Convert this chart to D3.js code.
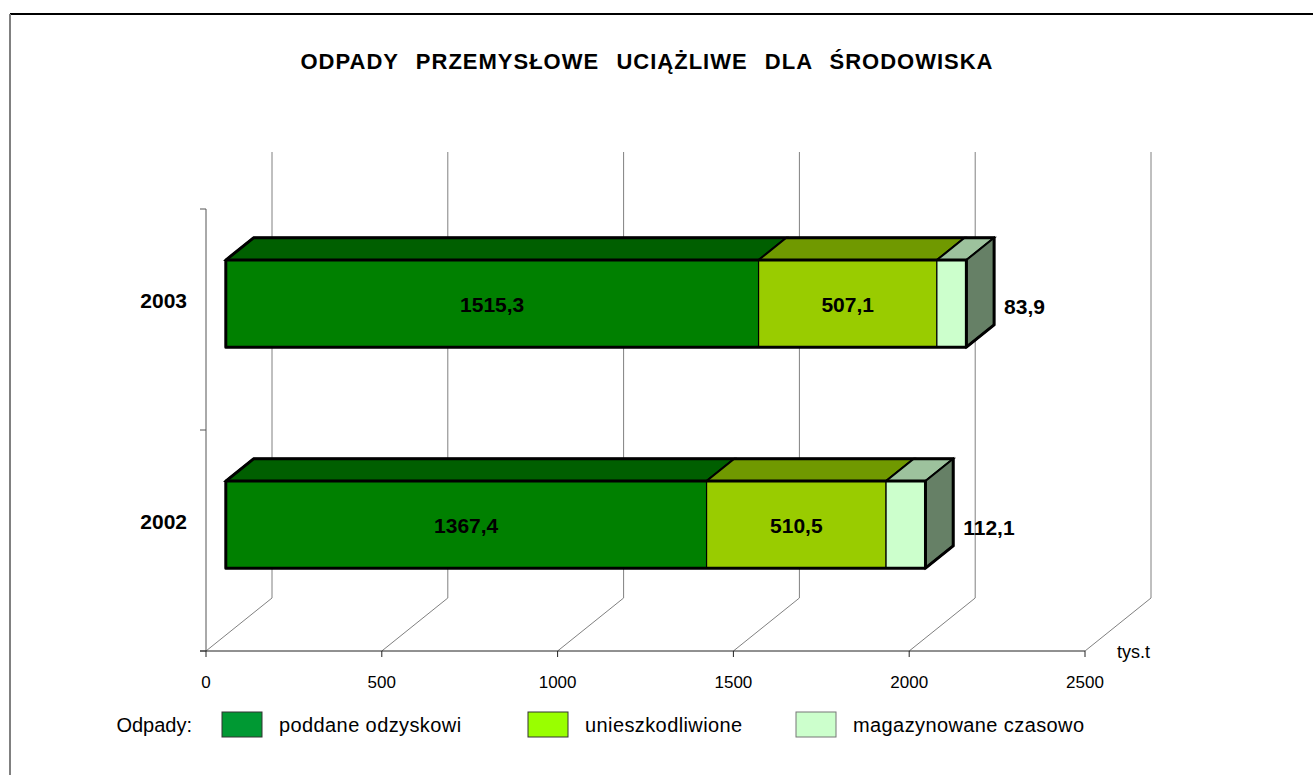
<!DOCTYPE html>
<html>
<head>
<meta charset="utf-8">
<script src="https://cdn.jsdelivr.net/npm/d3@7"></script>
<style>
  html, body { margin: 0; padding: 0; background: #fff; }
  svg { display: block; font-family: Arial, "Liberation Sans", sans-serif; }
</style>
</head>
<body>
<svg id="chart" width="1313" height="775"></svg>
<script>
// data
const years = ['2003', '2002']
const recovered = [1515.3, 1367.4]      // poddane odzyskowi
const neutralised = [507.1, 510.5]      // unieszkodliwione
const stored = [83.9, 112.1]            // magazynowane czasowo
const valueLabels = [['1515,3', '507,1', '83,9'], ['1367,4', '510,5', '112,1']]
const xTicks = [0, 500, 1000, 1500, 2000, 2500]
const seriesNames = ['poddane odzyskowi', 'unieszkodliwione', 'magazynowane czasowo']

const frontColors = ['#008000', '#99cc00', '#ccffcc']
const topColors = ['#005f00', '#709900', '#9dc29d']
const sideColor = '#668066'
const legendColors = ['#009933', '#99ff00', '#ccffcc']

const svg = d3.select('#chart')
const depth = { dx: 66, dy: -53 }
const barDepth = [0.3, 0.72]

const x = d3.scaleLinear().domain([0, 2500]).range([206, 1085])
const y = d3.scaleBand().domain(years).range([209, 651])
const barH = y.bandwidth() * 0.394

// projection: value, front-plane y, depth fraction
const P = (v, yy, t) => [x(v) + t * depth.dx, yy + t * depth.dy]

// frame
svg.append('line').attr('x1', 10).attr('x2', 1313).attr('y1', 14).attr('y2', 14)
    .attr('stroke', '#000').attr('stroke-width', 2)
svg.append('line').attr('x1', 10).attr('x2', 10).attr('y1', 14).attr('y2', 775)
    .attr('stroke', '#808080').attr('stroke-width', 2)

// title
const title = svg.append('text')
    .attr('x', 647).attr('y', 69)
    .attr('text-anchor', 'middle')
    .style('font-weight', 'bold').style('font-size', '22px')
    .style('letter-spacing', '1px')
    .text('ODPADY PRZEMYSŁOWE UCIĄŻLIWE DLA ŚRODOWISKA')
const tLen = title.node().getComputedTextLength()
title.style('word-spacing', Math.max(0, (693 - tLen) / 4) + 'px')

// back wall gridlines and floor diagonals
const grid = svg.append('g').attr('stroke', '#808080').attr('stroke-width', 1).attr('fill', 'none')
xTicks.forEach(t => {
    const back = P(t, 651, 1)
    grid.append('line')
        .attr('x1', back[0]).attr('y1', back[1])
        .attr('x2', back[0]).attr('y2', P(t, 205, 1)[1])
    grid.append('line')
        .attr('x1', x(t)).attr('y1', 651)
        .attr('x2', back[0]).attr('y2', back[1])
})

// left axis
const yAxis = svg.append('g').attr('stroke', '#555').attr('stroke-width', 1)
yAxis.append('line').attr('x1', 206).attr('x2', 206).attr('y1', 209).attr('y2', 651)
const yTickPos = y.domain().map(d => y(d)).concat([651])
yTickPos.forEach(p => {
    yAxis.append('line').attr('x1', 200).attr('x2', 206).attr('y1', p).attr('y2', p)
})

// bottom axis
const xAxis = svg.append('g')
xAxis.append('line').attr('x1', 200).attr('x2', x(2500)).attr('y1', 651).attr('y2', 651)
    .attr('stroke', '#222').attr('stroke-width', 1)
xAxis.selectAll('.tick')
    .data(xTicks)
    .enter()
        .append('line')
        .attr('x1', d => x(d)).attr('x2', d => x(d))
        .attr('y1', 651).attr('y2', 657)
        .attr('stroke', '#222')
xAxis.selectAll('.lbl')
    .data(xTicks)
    .enter()
        .append('text')
        .attr('x', d => x(d)).attr('y', 688)
        .attr('text-anchor', 'middle')
        .style('font-size', '17px')
        .text(d => d)
svg.append('text').attr('x', 1117).attr('y', 658)
    .style('font-size', '18px').text('tys.t')

// category labels
svg.selectAll('.cat')
    .data(years)
    .enter()
        .append('text')
        .attr('x', 187).attr('y', d => y(d) + y.bandwidth() / 2 - 20 + 8)
        .attr('text-anchor', 'end')
        .style('font-weight', 'bold').style('font-size', '21px')
        .text(d => d)

// bars
const poly = pts => 'M' + pts.map(p => p.join(',')).join('L') + 'Z'

years.forEach((yr, i) => {
    const vals = [recovered[i], neutralised[i], stored[i]]
    const c = y(yr) + y.bandwidth() / 2
    const top = c - barH / 2
    const bot = c + barH / 2
    const [t0, t1] = barDepth
    const g = svg.append('g')
    let start = 0
    const segs = vals.map((v, k) => {
        const s = { k, a: start, b: start + v }
        start += v
        return s
    })

    // front faces
    g.selectAll('.front')
        .data(segs)
        .enter()
            .append('path')
            .attr('d', s => poly([P(s.a, top, t0), P(s.b, top, t0), P(s.b, bot, t0), P(s.a, bot, t0)]))
            .attr('fill', s => frontColors[s.k])
            .attr('stroke', '#000').attr('stroke-width', 1.2)

    // top faces
    g.selectAll('.topf')
        .data(segs)
        .enter()
            .append('path')
            .attr('d', s => poly([P(s.a, top, t0), P(s.b, top, t0), P(s.b, top, t1), P(s.a, top, t1)]))
            .attr('fill', s => topColors[s.k])
            .attr('stroke', '#000').attr('stroke-width', 2)

    // right end face
    const total = start
    g.append('path')
        .attr('d', poly([P(total, top, t0), P(total, top, t1), P(total, bot, t1), P(total, bot, t0)]))
        .attr('fill', sideColor)
        .attr('stroke', '#000').attr('stroke-width', 2)

    // outline
    g.append('path')
        .attr('d', poly([P(0, bot, t0), P(0, top, t0), P(0, top, t1), P(total, top, t1),
            P(total, bot, t1), P(total, bot, t0)]))
        .attr('fill', 'none').attr('stroke', '#000').attr('stroke-width', 3)
        .attr('stroke-linejoin', 'round')
    g.append('path')
        .attr('d', 'M' + P(0, top, t0).join(',') + 'L' + P(total, top, t0).join(',') + 'L' + P(total, bot, t0).join(','))
        .attr('fill', 'none').attr('stroke', '#000').attr('stroke-width', 3)

    // value labels
    const mid = (top + bot) / 2 + t0 * depth.dy + 8
    segs.forEach(s => {
        let lx, anchor
        if (s.k < 2) {
            lx = (P(s.a, top, t0)[0] + P(s.b, top, t0)[0]) / 2
            anchor = 'middle'
        } else {
            lx = P(total, top, t1)[0] + 10
            anchor = 'start'
        }
        g.append('text')
            .attr('x', lx).attr('y', mid + (s.k < 2 ? 0 : 2))
            .attr('text-anchor', anchor)
            .style('font-weight', 'bold').style('font-size', '21px')
            .text(valueLabels[i][s.k])
    })
})

// legend
const legend = svg.append('g')
legend.append('text').attr('x', 192).attr('y', 732).attr('text-anchor', 'end')
    .style('font-size', '20px').text('Odpady:')
const legendX = [222, 528, 796]
seriesNames.forEach((n, k) => {
    legend.append('rect')
        .attr('x', legendX[k]).attr('y', 712).attr('width', 40).attr('height', 25)
        .attr('fill', legendColors[k])
        .attr('stroke', k === 2 ? '#777' : '#333').attr('stroke-width', 1)
    legend.append('text')
        .attr('x', legendX[k] + 57).attr('y', 732)
        .style('font-size', '20px').style('letter-spacing', '0.4px')
        .text(n)
})
</script>
</body>
</html>
